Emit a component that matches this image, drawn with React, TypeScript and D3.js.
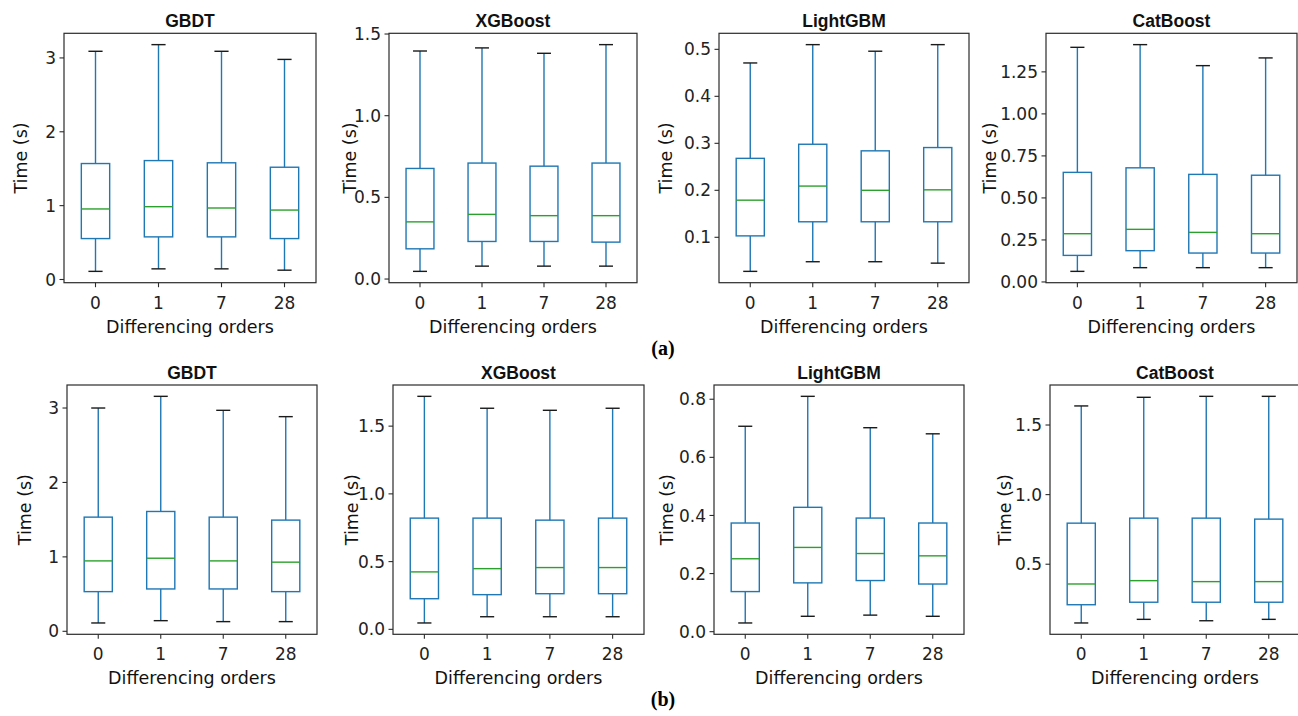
import React from 'react';
import * as d3 from 'd3';

// categories
const orders = ['0', '1', '7', '28'];
const models = ['GBDT', 'XGBoost', 'LightGBM', 'CatBoost'];

// each box: [whisker low, Q1, median, Q3, whisker high]
const aGBDT = [[0.11, 0.554, 0.955, 1.57, 3.09], [0.144, 0.577, 0.986, 1.61, 3.18], [0.144, 0.577, 0.968, 1.58, 3.09], [0.126, 0.554, 0.94, 1.52, 2.98]];
const aXGBoost = [[0.047, 0.185, 0.35, 0.677, 1.396], [0.079, 0.23, 0.396, 0.71, 1.415], [0.079, 0.23, 0.388, 0.691, 1.382], [0.079, 0.226, 0.388, 0.71, 1.435]];
const aLightGBM = [[0.0275, 0.103, 0.179, 0.268, 0.471], [0.048, 0.133, 0.209, 0.298, 0.51], [0.048, 0.133, 0.2, 0.284, 0.496], [0.045, 0.133, 0.201, 0.291, 0.51]];
const aCatBoost = [[0.063, 0.158, 0.287, 0.652, 1.396], [0.085, 0.186, 0.313, 0.679, 1.412], [0.085, 0.172, 0.295, 0.64, 1.287], [0.085, 0.172, 0.287, 0.635, 1.333]];

const bGBDT = [[0.112, 0.533, 0.946, 1.534, 3.0], [0.143, 0.569, 0.982, 1.61, 3.157], [0.13, 0.569, 0.946, 1.534, 2.969], [0.13, 0.533, 0.929, 1.494, 2.884]];
const bXGBoost = [[0.047, 0.226, 0.424, 0.821, 1.72], [0.093, 0.256, 0.448, 0.821, 1.632], [0.093, 0.263, 0.456, 0.806, 1.617], [0.093, 0.263, 0.456, 0.821, 1.632]];
const bLightGBM = [[0.03, 0.138, 0.251, 0.374, 0.707], [0.053, 0.168, 0.29, 0.428, 0.81], [0.057, 0.176, 0.269, 0.391, 0.702], [0.053, 0.164, 0.261, 0.374, 0.681]];
const bCatBoost = [[0.078, 0.209, 0.358, 0.795, 1.637], [0.104, 0.227, 0.382, 0.831, 1.699], [0.094, 0.227, 0.375, 0.831, 1.706], [0.104, 0.227, 0.375, 0.824, 1.706]];

// y tick labels per panel
const ticksGBDT = ['0', '1', '2', '3'];
const ticksXGB = ['0.0', '0.5', '1.0', '1.5'];
const ticksLgbA = ['0.1', '0.2', '0.3', '0.4', '0.5'];
const ticksCatA = ['0.00', '0.25', '0.50', '0.75', '1.00', '1.25'];
const ticksLgbB = ['0.0', '0.2', '0.4', '0.6', '0.8'];
const ticksCatB = ['0.5', '1.0', '1.5'];

const rowA = [aGBDT, aXGBoost, aLightGBM, aCatBoost];
const rowB = [bGBDT, bXGBoost, bLightGBM, bCatBoost];
const ticksA = [ticksGBDT, ticksXGB, ticksLgbA, ticksCatA];
const ticksB = [ticksGBDT, ticksXGB, ticksLgbB, ticksCatB];

// layout (frame left, width, y-label baseline x)
const layoutA = [
  { left: 64, width: 252, labelX: 27 },
  { left: 389, width: 248, labelX: 356 },
  { left: 719, width: 250, labelX: 672 },
  { left: 1046, width: 251, labelX: 996 },
];
const layoutB = [
  { left: 67, width: 250, labelX: 31 },
  { left: 393, width: 251, labelX: 358 },
  { left: 714, width: 250, labelX: 673 },
  { left: 1050, width: 250, labelX: 1011 },
];

const FONT = '"DejaVu Sans", sans-serif';
const BLUE = '#1f77b4';
const GREEN = '#2ca02c';
const AXIS = '#2b2b2b';

function BoxPanel({ title, boxes, ticks, left, width, top, height, labelX }) {
  const lo = d3.min(boxes, b => b[0]);
  const hi = d3.max(boxes, b => b[4]);
  const pad = (hi - lo) * 0.05;
  const y = d3.scaleLinear().domain([lo - pad, hi + pad]).range([top + height, top]);
  const x = d3.scaleLinear().domain([0.5, orders.length + 0.5]).range([left, left + width]);
  const step = x(2) - x(1);
  const bw = step * 0.45;
  const cw = bw / 2;
  const bottom = top + height;

  return (
    <g>
      <text x={left + width / 2} y={top - 6} textAnchor="middle" fontFamily='"Liberation Sans", Arial, sans-serif'
        fontWeight="bold" fontSize={17.5} fill="#111">{title}</text>
      {boxes.map((b, i) => {
        const cx = x(i + 1);
        return (
          <g key={i}>
            <line x1={cx} x2={cx} y1={y(b[0])} y2={y(b[1])} stroke={BLUE} strokeWidth={1.4} />
            <line x1={cx} x2={cx} y1={y(b[3])} y2={y(b[4])} stroke={BLUE} strokeWidth={1.4} />
            <line x1={cx - cw / 2} x2={cx + cw / 2} y1={y(b[0])} y2={y(b[0])} stroke="#1a1a1a" strokeWidth={1.4} />
            <line x1={cx - cw / 2} x2={cx + cw / 2} y1={y(b[4])} y2={y(b[4])} stroke="#1a1a1a" strokeWidth={1.4} />
            <rect x={cx - bw / 2} y={y(b[3])} width={bw} height={y(b[1]) - y(b[3])} fill="none" stroke={BLUE} strokeWidth={1.4} />
            <line x1={cx - bw / 2} x2={cx + bw / 2} y1={y(b[2])} y2={y(b[2])} stroke={GREEN} strokeWidth={1.4} />
          </g>
        );
      })}
      <rect x={left} y={top} width={width} height={height} fill="none" stroke={AXIS} strokeWidth={1.2} />
      {ticks.map(t => {
        const ty = y(+t);
        return (
          <g key={t}>
            <line x1={left - 4.5} x2={left} y1={ty} y2={ty} stroke={AXIS} strokeWidth={1.1} />
            <text x={left - 8} y={ty} dy="0.36em" textAnchor="end" fontFamily={FONT} fontSize={17} fill="#222">{t}</text>
          </g>
        );
      })}
      {orders.map((o, i) => (
        <g key={o}>
          <line x1={x(i + 1)} x2={x(i + 1)} y1={bottom} y2={bottom + 4.5} stroke={AXIS} strokeWidth={1.1} />
          <text x={x(i + 1)} y={bottom + 26} textAnchor="middle" fontFamily={FONT} fontSize={17} fill="#222">{o}</text>
        </g>
      ))}
      <text x={left + width / 2} y={bottom + 50} textAnchor="middle" fontFamily={FONT} fontSize={17.5} fill="#111">Differencing orders</text>
      <text transform={`translate(${labelX},${top + height / 2}) rotate(-90)`} textAnchor="middle" fontFamily={FONT}
        fontSize={17.5} fill="#111">Time (s)</text>
    </g>
  );
}

export default function App() {
  const rows = [
    { data: rowA, ticks: ticksA, layout: layoutA, top: 33.3, height: 249.4, tag: '(a)', tagY: 355 },
    { data: rowB, ticks: ticksB, layout: layoutB, top: 385, height: 249.3, tag: '(b)', tagY: 706 },
  ];
  return (
    <div style={{ position: 'absolute', left: 0, top: 0 }}>
      <svg width={1298} height={716} style={{ display: 'block', background: '#fff' }}>
        {rows.map((r, ri) => (
          <g key={ri}>
            {models.map((m, mi) => (
              <BoxPanel key={m} title={m} boxes={r.data[mi]} ticks={r.ticks[mi]} top={r.top} height={r.height}
                left={r.layout[mi].left} width={r.layout[mi].width} labelX={r.layout[mi].labelX} />
            ))}
            <text x={663} y={r.tagY} textAnchor="middle" fontFamily='"Liberation Serif", "Times New Roman", serif'
              fontWeight="bold" fontSize={20} fill="#000">{r.tag}</text>
          </g>
        ))}
      </svg>
    </div>
  );
}
